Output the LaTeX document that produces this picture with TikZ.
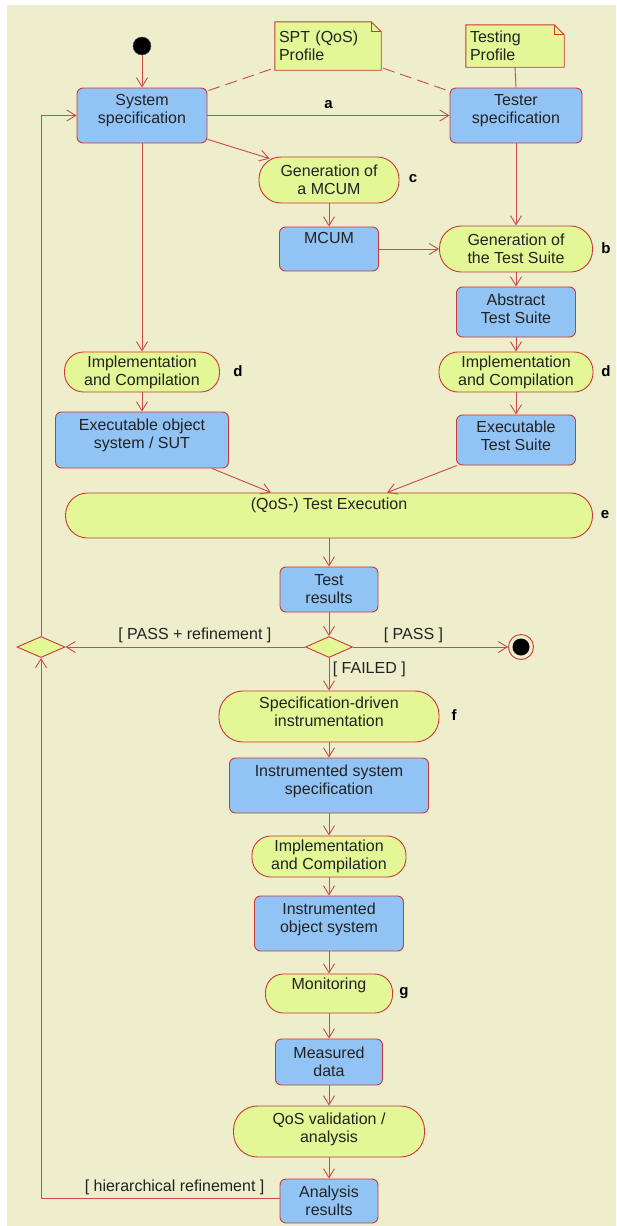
\documentclass[tikz,border=0pt]{standalone}
\usepackage{fontspec}
\setmainfont{Liberation Sans}
\usetikzlibrary{arrows.meta,shapes.geometric,calc}

\definecolor{bgc}{HTML}{EEEDCC}
\definecolor{boxblue}{HTML}{91C4F5}
\definecolor{actyel}{HTML}{E3F796}
\definecolor{edge}{HTML}{CC3838}
\definecolor{flow}{HTML}{CC4A4A}
\definecolor{ink}{HTML}{222222}

% an empty closing line that raises the text block a little
\newcommand{\lift}[1]{\\[#1pt]\mbox{}}

\begin{document}
\begin{tikzpicture}[
  x=1pt, y=-1pt,
  every node/.style={font=\fontsize{16}{18}\selectfont, text=ink},
  box/.style={draw=edge, fill=boxblue, rounded corners=6pt, line width=0.9pt,
              align=center, inner sep=0pt},
  act/.style={draw=edge, fill=actyel, line width=0.9pt, align=center, inner sep=0pt},
  notebox/.style={fill=actyel, inner sep=0pt, align=left},
  flowline/.style={draw=flow, line width=0.9pt},
  arr/.style={flowline, -{Straight Barb[length=9pt,width=11pt]}},
  tag/.style={font=\bfseries\fontsize{15}{18}\selectfont, text=black},
  guard/.style={font=\fontsize{16}{18}\selectfont},
  dec/.style={diamond, draw=edge, fill=actyel, line width=0.9pt, inner sep=0pt},
]
% canvas
\useasboundingbox (0,0) rectangle (616,1226);
\fill[white] (0,0) rectangle (616,1226);
\fill[bgc] (7,5) rectangle (616,1226);

% profiles (notes with folded corner)
\node[notebox, minimum width=106pt, minimum height=48pt, text width=98pt] (spt) at (328,46) {SPT (QoS)\\Profile};
\fill[bgc] ($(spt.north east)+(-10,0)$) -- (spt.north east) -- ($(spt.north east)+(0,10)$) -- cycle;
\draw[edge, line width=0.9pt] (spt.south west) -- (spt.south east) -- ($(spt.north east)+(0,10)$)
  -- ($(spt.north east)+(-10,0)$) -- (spt.north west) -- cycle;
\draw[edge, line width=0.9pt] ($(spt.north east)+(-10,0)$) -- ($(spt.north east)+(-10,10)$) -- ($(spt.north east)+(0,10)$);

\node[notebox, minimum width=98pt, minimum height=42pt, text width=90pt] (tprof) at (515,46) {Testing\\Profile};
\fill[bgc] ($(tprof.north east)+(-10,0)$) -- (tprof.north east) -- ($(tprof.north east)+(0,10)$) -- cycle;
\draw[edge, line width=0.9pt] (tprof.south west) -- (tprof.south east) -- ($(tprof.north east)+(0,10)$)
  -- ($(tprof.north east)+(-10,0)$) -- (tprof.north west) -- cycle;
\draw[edge, line width=0.9pt] ($(tprof.north east)+(-10,0)$) -- ($(tprof.north east)+(-10,10)$) -- ($(tprof.north east)+(0,10)$);

% initial node
\node[circle, fill=black, draw=black!70, inner sep=0pt, minimum size=18pt] (start) at (142,46) {};

% upper part
\node[box, minimum width=130pt, minimum height=55pt] (sys) at (142,115.5) {System\\specification\lift{-5.5}};
\node[box, minimum width=132pt, minimum height=55pt] (tester) at (516,115.5) {Tester\\specification\lift{-5.5}};
\node[act, minimum width=140pt, minimum height=46pt, rounded corners=22pt] (genM) at (329,180) {Generation of\\a MCUM};
\node[box, minimum width=99pt, minimum height=44pt] (mcum) at (329,249) {MCUM\\[5pt]\mbox{}};
\node[act, minimum width=153pt, minimum height=46pt, rounded corners=22pt] (genTS) at (516,249) {Generation of\\the Test Suite};
\node[box, minimum width=119pt, minimum height=50pt] (absTS) at (516,312) {Abstract\\Test Suite\lift{-11.5}};
\node[act, minimum width=154pt, minimum height=40pt, rounded corners=19pt] (implR) at (516,372) {Implementation\\and Compilation};
\node[act, minimum width=155pt, minimum height=40pt, rounded corners=19pt] (implL) at (142,372) {Implementation\\and Compilation};
\node[box, minimum width=119pt, minimum height=50pt] (exeTS) at (516,440) {Executable\\Test Suite\lift{-9.5}};
\node[box, minimum width=173pt, minimum height=56pt] (exeObj) at (142,440) {Executable object\\system / SUT\lift{-5.5}};
\node[act, minimum width=527pt, minimum height=45pt, rounded corners=22pt] (testEx) at (329,515.5) {(QoS-) Test Execution\\[5pt]\mbox{}};
\node[box, minimum width=98pt, minimum height=45pt] (results) at (329,589.5) {Test\\results};

% decisions and final node
\node[dec, minimum width=47pt, minimum height=21pt] (decide) at (329,647) {};
\node[dec, minimum width=48pt, minimum height=21pt] (merge) at (41,647) {};
\node[circle, draw=edge, fill=bgc, line width=0.9pt, inner sep=0pt, minimum size=25pt] (final) at (521,647) {};
\node[circle, fill=black, inner sep=0pt, minimum size=17pt] (finalin) at (final) {};

% lower part
\node[act, minimum width=220pt, minimum height=51pt, rounded corners=24pt] (specDrv) at (329,716.5) {Specification-driven\\instrumentation\lift{-8.5}};
\node[box, minimum width=199pt, minimum height=55pt] (instSpec) at (329,785.5) {Instrumented system\\specification\lift{-5.5}};
\node[act, minimum width=154pt, minimum height=41pt, rounded corners=19pt] (implC) at (329,856.5) {Implementation\\and Compilation};
\node[box, minimum width=149pt, minimum height=55pt] (instObj) at (329,923.5) {Instrumented\\object system\lift{-6.5}};
\node[act, minimum width=127pt, minimum height=39pt, rounded corners=18pt] (monit) at (329,993.5) {Monitoring\\[2pt]\mbox{}};
\node[box, minimum width=107pt, minimum height=46pt] (measured) at (329,1062) {Measured\\data};
\node[act, minimum width=191pt, minimum height=51pt, rounded corners=24pt] (qosval) at (329,1131.5) {QoS validation /\\analysis\lift{-9.5}};
\node[box, minimum width=98pt, minimum height=44pt] (analysis) at (329,1201) {Analysis\\results};

% profile associations
\draw[flow, line width=0.9pt, dash pattern=on 12pt off 6pt] ($(sys.north east)+(1,3)$) -- ($(spt.south west)+(-1,-2)$);
\draw[flow, line width=0.9pt, dash pattern=on 12pt off 6pt] ($(spt.south east)+(2,-2)$) -- ($(tester.north west)+(1,4)$);
\draw[flowline] (tprof.south) -- (tester.north);

% control flow
\draw[arr] (start) -- (sys);
\draw[arr] (sys) -- node[tag, above=3pt] (la) {a} (tester);
\draw[arr] (sys.-20) -- ($(genM.north west)+(11,2)$);
\draw[arr] (genM) -- (mcum);
\draw[arr] (mcum) -- (genTS);
\draw[arr] (tester) -- (genTS);
\draw[arr] (genTS) -- (absTS);
\draw[arr] (absTS) -- (implR);
\draw[arr] (implR) -- (exeTS);
\draw[arr] (sys) -- (implL);
\draw[arr] (implL) -- (exeObj);
\draw[arr] ($(exeObj.south)+(70,0)$) -- ($(testEx.north)+(-58,0)$);
\draw[arr] ($(exeTS.south west)+(1,0)$) -- ($(testEx.north)+(58,0)$);
\draw[arr] (testEx) -- (results);
\draw[arr] (results) -- (decide);
\draw[arr] (decide) -- node[guard, pos=0.46, above=0pt] (lpr) {[ PASS + refinement ]} (merge);
\draw[arr] (decide) -- node[guard, pos=0.39, above=0pt] (lps) {[ PASS ]} (final);
\draw[arr] (decide) -- node[guard, pos=0.35, right=0pt] (lfl) {[ FAILED ]} (specDrv);
\draw[arr] (merge.north) |- (sys.west);
\draw[arr] (specDrv) -- (instSpec);
\draw[arr] (instSpec) -- (implC);
\draw[arr] (implC) -- (instObj);
\draw[arr] (instObj) -- (monit);
\draw[arr] (monit) -- (measured);
\draw[arr] (measured) -- (qosval);
\draw[arr] (qosval) -- (analysis);
\draw[arr] ($(analysis.west)+(0,-3)$) -| node[guard, pos=0.22, above=-1pt] (lhr) {[ hierarchical refinement ]} (merge.south);

% step letters
\node[tag] (lb) at (606,248) {b};
\node[tag] (lc) at (413,179) {c};
\node[tag] (ld1) at (238,371) {d};
\node[tag] (ld2) at (606,371) {d};
\node[tag] (le) at (605,515) {e};
\node[tag] (lf) at (454,715) {f};
\node[tag] (lg) at (404,993) {g};
\end{tikzpicture}
\end{document}
